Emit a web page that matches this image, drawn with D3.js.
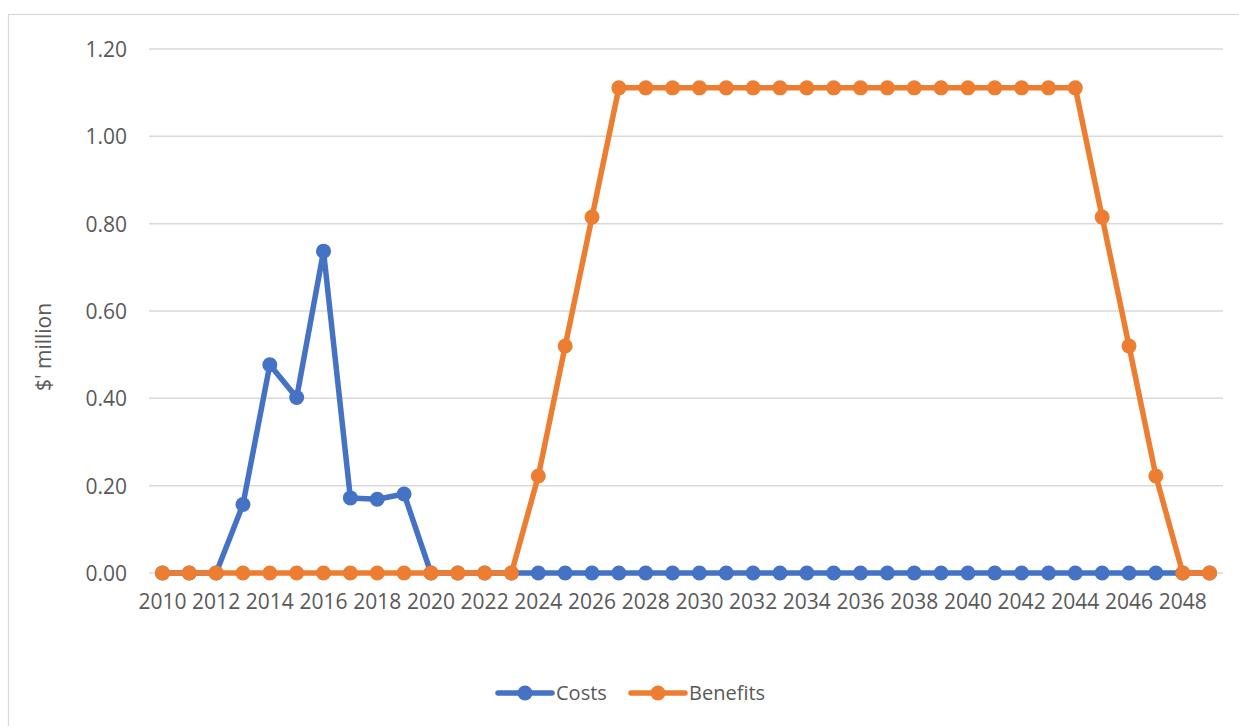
<!DOCTYPE html>
<html><head><meta charset="utf-8">
<script src="https://cdn.jsdelivr.net/npm/d3@7"></script>
<style>
html,body{margin:0;padding:0;background:#fff;}
svg{display:block;}
text{font-family:"Open Sans",sans-serif;fill:#595959;}
</style></head>
<body>
<svg id="chart" width="1239" height="726"></svg>
<script>
const years = d3.range(2010, 2050);
const costs = [0,0,0,0.157,0.477,0.402,0.737,0.172,0.169,0.181,0,0,0,0,0,0,0,0,0,0,0,0,0,0,0,0,0,0,0,0,0,0,0,0,0,0,0,0,0,0];
const benefits = [0,0,0,0,0,0,0,0,0,0,0,0,0,0,0.222,0.520,0.815,1.111,1.111,1.111,1.111,1.111,1.111,1.111,1.111,1.111,1.111,1.111,1.111,1.111,1.111,1.111,1.111,1.111,1.111,0.815,0.520,0.222,0,0];
const yTicks = [0,0.2,0.4,0.6,0.8,1.0,1.2];
const seriesNames = ["Costs","Benefits"];
const seriesColors = ["#4472C4","#ED7D31"];
const seriesValues = [costs, benefits];

(function(){
const svg = d3.select("#chart");
const pLeft = 149, pRight = 1223, pTop = 49, pBottom = 573;
const fs = "21px";

svg.append("rect").attr("x",8.5).attr("y",14.5).attr("width",1300).attr("height",800)
  .attr("fill","none").attr("stroke","#D9D9D9").attr("stroke-width",1.2);

const x = d3.scaleBand().domain(years).range([pLeft,pRight]);
const y = d3.scaleLinear().domain([0,1.2]).range([pBottom,pTop]);

svg.append("g").selectAll("line").data(yTicks).join("line")
  .attr("x1",pLeft).attr("x2",pRight)
  .attr("y1",d=>y(d)).attr("y2",d=>y(d))
  .attr("stroke","#D9D9D9").attr("stroke-width",1.5);

const yAxis = d3.axisLeft(y).tickValues(yTicks).tickFormat(d3.format(".2f")).tickSize(0).tickPadding(0);
const gy = svg.append("g").attr("transform",`translate(127,0)`).call(yAxis);
gy.select(".domain").remove();
gy.selectAll("text").style("font-size",fs).attr("fill","#595959").attr("dy","0.35em")
  .style("font-family","'Open Sans',sans-serif");

const xAxis = d3.axisBottom(x).tickValues(years.filter(d=>(d-2010)%2===0)).tickSize(0).tickPadding(0);
const gx = svg.append("g").attr("transform",`translate(0,${pBottom+29})`).call(xAxis);
gx.select(".domain").remove();
gx.selectAll("text").style("font-size",fs).attr("fill","#595959").attr("dy","0.35em")
  .style("font-family","'Open Sans',sans-serif");

svg.append("text").attr("transform","translate(43,347) rotate(-90)")
  .attr("text-anchor","middle").attr("dominant-baseline","central")
  .style("font-size",fs).text("$' million");

const cx = i => x(years[i]) + x.bandwidth()/2;
const line = d3.line().x((d,i)=>cx(i)).y(d=>y(d));

seriesValues.forEach((vals,k)=>{
  const g = svg.append("g");
  g.append("path").datum(vals).attr("d",line).attr("fill","none")
    .attr("stroke",seriesColors[k]).attr("stroke-width",5.5).attr("stroke-linejoin","round").attr("stroke-linecap","round");
  g.selectAll("circle").data(vals).join("circle")
    .attr("cx",(d,i)=>cx(i)).attr("cy",d=>y(d)).attr("r",7.5).attr("fill",seriesColors[k]);
});

const legendX = [498, 631];
seriesNames.forEach((name,k)=>{
  const g = svg.append("g").attr("transform",`translate(${legendX[k]},693)`);
  g.append("line").attr("x1",0).attr("x2",54).attr("y1",0).attr("y2",0)
    .attr("stroke",seriesColors[k]).attr("stroke-width",5.5).attr("stroke-linecap","round");
  g.append("circle").attr("cx",27).attr("cy",0).attr("r",7.5).attr("fill",seriesColors[k]);
  g.append("text").attr("x",58).attr("y",0).attr("dy","0.35em").style("font-size","20px").text(name);
});
})();
</script>
</body></html>
